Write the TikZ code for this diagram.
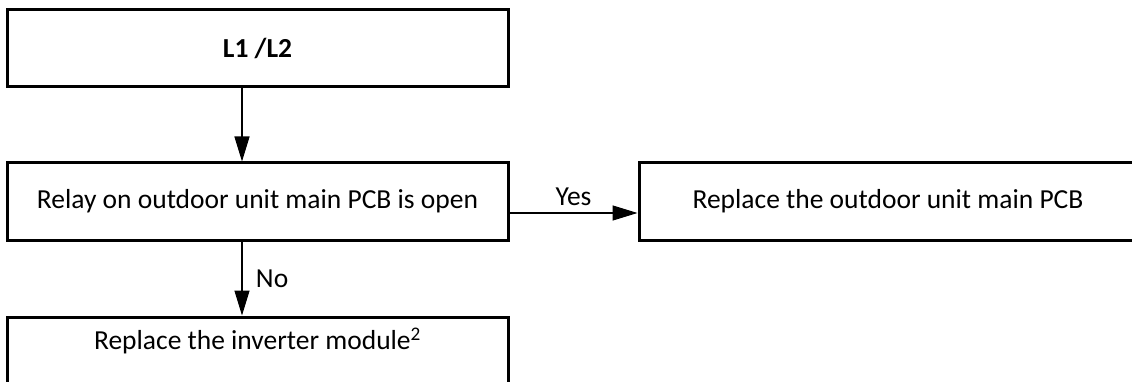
\documentclass[tikz,border=0pt]{standalone}
\usepackage{fontspec}
\setmainfont{Carlito}
\usetikzlibrary{arrows.meta,positioning}
\tikzset{
  flowbox/.style={draw=black,line width=3pt,minimum width=501pt,minimum height=77pt,inner sep=0pt,align=center,font=\fontsize{27.5}{32}\selectfont},
  arrow/.style={-{Triangle[length=25pt,width=15pt]},line width=1.3pt,draw=black},
  lbl/.style={font=\fontsize{27.5}{32}\selectfont}
}
\begin{document}
\begin{tikzpicture}[x=1pt,y=-1pt]
  \useasboundingbox (0,0) rectangle (1132,382);
  \node[flowbox,font=\fontsize{27.5}{32}\selectfont\bfseries] (start) at (257.5,48.5) {L1 /L2};
  \node[flowbox] (relay) at (257.5,201.5) {Relay on outdoor unit main PCB is open};
  \node[flowbox,minimum width=498pt] (pcb) at (888,201.5) {Replace the outdoor unit main PCB};
  \node[flowbox,text height=20pt,text depth=32pt] (module) at (257.5,355.5) {Replace the inverter module\textsuperscript{2}};
  \draw[arrow] ([xshift=-15.5pt]start.south) -- ([xshift=-15.5pt]relay.north);
  \draw[arrow] ([yshift=-11.5pt]relay.east) -- node[lbl,above=3pt] {Yes} ([yshift=-11.5pt]pcb.west);
  \draw[arrow] ([xshift=-15.5pt]relay.south) -- node[lbl,right=10pt] {No} ([xshift=-15.5pt]module.north);
\end{tikzpicture}
\end{document}
